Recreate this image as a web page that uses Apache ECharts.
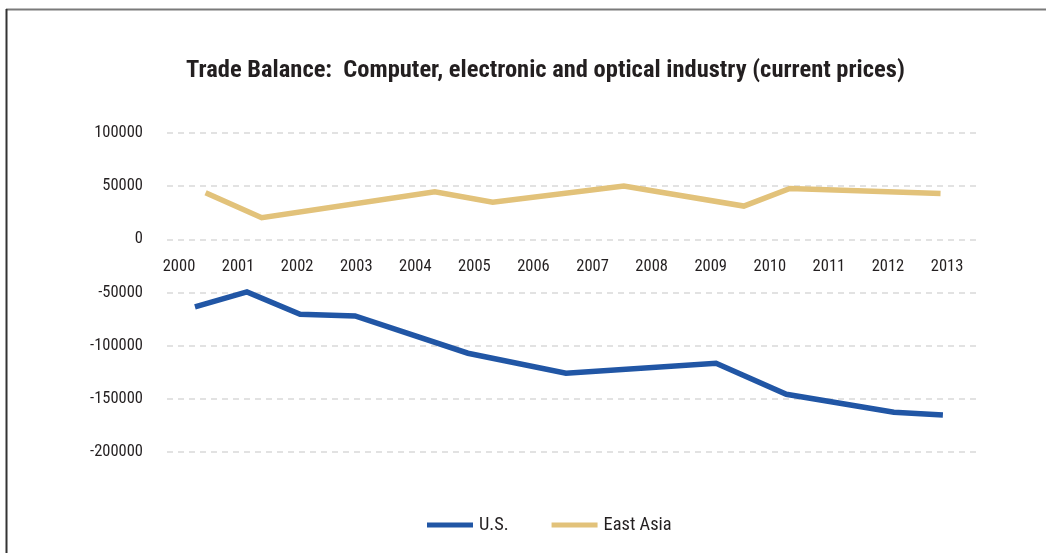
<!DOCTYPE html>
<html>
<head>
<meta charset="utf-8">
<title>Trade Balance: Computer, electronic and optical industry</title>
<script src="https://cdn.jsdelivr.net/npm/echarts@6/dist/echarts.min.js"></script>
<style>
  html, body { margin: 0; padding: 0; background: #ffffff; }
  #chart { width: 1046px; height: 553px; }
</style>
</head>
<body>
<div id="chart"></div>
<script>
// Year tick labels shown along the zero line
const years = [2000, 2001, 2002, 2003, 2004, 2005, 2006, 2007, 2008, 2009, 2010, 2011, 2012, 2013];

// U.S. trade balance: position along the year axis and value
const usYear  = [2000.27, 2001.15, 2002.05, 2002.98, 2004.89, 2006.55, 2009.09, 2010.28, 2012.10, 2012.93];
const usValue = [-63600, -49500, -70500, -72100, -107100, -125900, -116500, -145700, -162600, -165100];

// East Asia trade balance: position along the year axis and value
const eaYear  = [2000.45, 2001.40, 2004.33, 2005.31, 2007.53, 2009.56, 2010.34, 2012.89];
const eaValue = [43900, 20400, 44800, 35000, 50100, 31300, 47900, 43200];

const FONT = '"Roboto Condensed", "Open Sans", sans-serif';
const TEXT = '#231f20';
const US_COLOR = '#2156a5';
const EA_COLOR = '#e2c27a';

const GRID_TOP = 133;
const GRID_BOTTOM = 101;
const CHART_H = 553;
const Y_MIN = -200000;
const Y_MAX = 100000;

// The year labels sit just under the zero line, so the x axis is shifted up to it
const gridHeight = CHART_H - GRID_TOP - GRID_BOTTOM;
const zeroFromBottom = gridHeight * (0 - Y_MIN) / (Y_MAX - Y_MIN);

const pair = (xs, ys) => xs.map((x, i) => [x, ys[i]]);

const chart = echarts.init(document.getElementById('chart'), null, { renderer: 'canvas' });

chart.setOption({
  backgroundColor: '#ffffff',
  animation: false,
  textStyle: { fontFamily: FONT },
  title: {
    text: 'Trade Balance:  Computer, electronic and optical industry (current prices)',
    left: 181,
    top: 53,
    textStyle: { fontFamily: FONT, fontWeight: 'bold', fontSize: 24.5, color: TEXT }
  },
  graphic: [
    { type: 'line', shape: { x1: 6, y1: 9.5, x2: 1046, y2: 9.5 }, style: { stroke: '#7a7a7a', lineWidth: 2 } },
    { type: 'line', shape: { x1: 6.5, y1: 9, x2: 6.5, y2: 553 }, style: { stroke: '#333333', lineWidth: 2 } }
  ],
  legend: {
    bottom: 14,
    left: 422,
    itemWidth: 46,
    itemHeight: 5,
    itemGap: 43,
    icon: 'rect',
    textStyle: { fontFamily: FONT, fontSize: 18.4, color: TEXT, padding: [0, 0, 0, 1] },
    data: ['U.S.', 'East Asia']
  },
  grid: { left: 167, right: 69, top: GRID_TOP, bottom: GRID_BOTTOM, containLabel: false },
  xAxis: {
    type: 'value',
    position: 'bottom',
    offset: -zeroFromBottom,
    min: 1999.797,
    max: 2013.507,
    axisLine: { show: false, onZero: false },
    axisTick: { show: false },
    splitLine: { show: false },
    axisLabel: {
      customValues: years,
      formatter: v => String(Math.round(v)),
      fontFamily: FONT,
      fontSize: 16.5,
      color: TEXT,
      margin: 19,
      showMinLabel: true,
      showMaxLabel: true
    }
  },
  yAxis: {
    type: 'value',
    min: Y_MIN,
    max: Y_MAX,
    interval: 50000,
    axisLine: { show: false },
    axisTick: { show: false },
    axisLabel: { fontFamily: FONT, fontSize: 16.5, color: TEXT, margin: 24, formatter: v => String(v) },
    splitLine: { lineStyle: { color: '#d9d9d9', width: 1.5, type: [6, 5] } }
  },
  series: [
    {
      name: 'U.S.',
      type: 'line',
      data: pair(usYear, usValue),
      showSymbol: false,
      symbol: 'none',
      lineStyle: { color: US_COLOR, width: 5.5, join: 'miter', cap: 'butt' },
      itemStyle: { color: US_COLOR }
    },
    {
      name: 'East Asia',
      type: 'line',
      data: pair(eaYear, eaValue),
      showSymbol: false,
      symbol: 'none',
      lineStyle: { color: EA_COLOR, width: 5.5, join: 'miter', cap: 'butt' },
      itemStyle: { color: EA_COLOR }
    }
  ]
});
</script>
</body>
</html>
